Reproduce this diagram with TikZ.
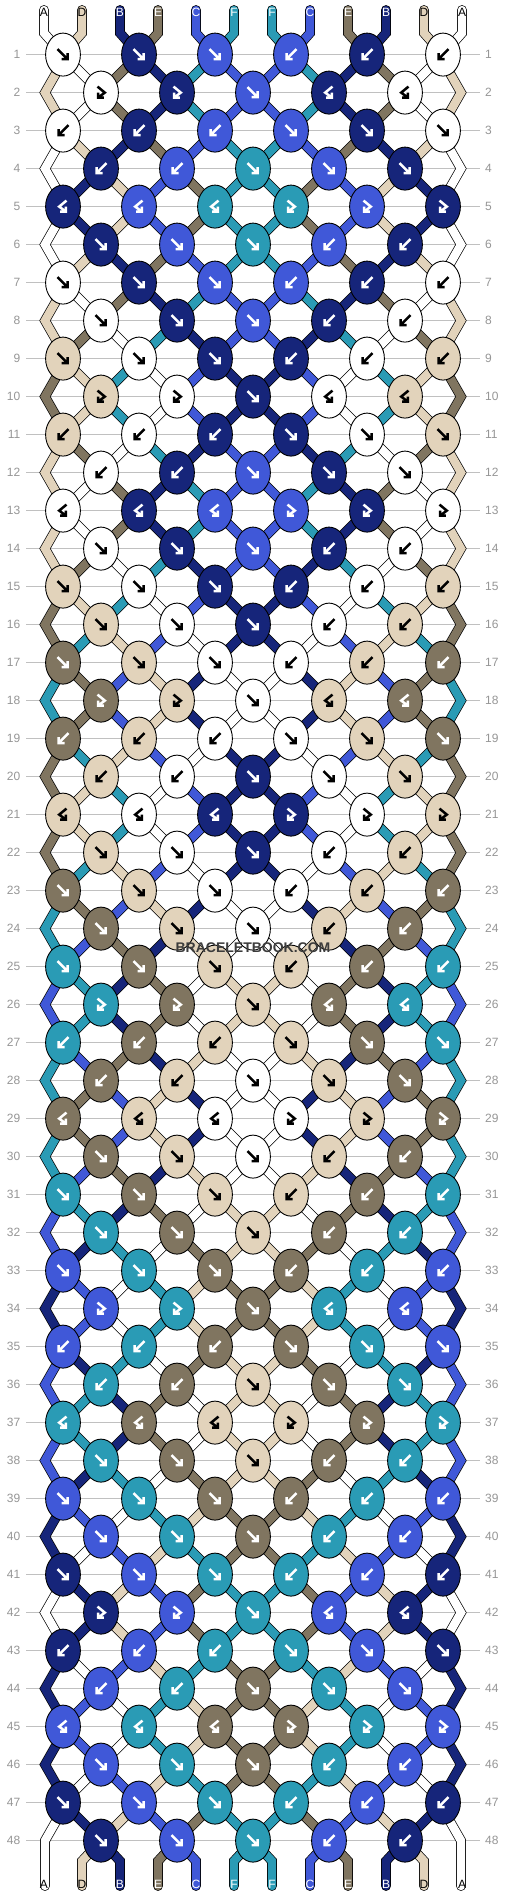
\documentclass[tikz,border=0pt]{standalone}
\usepackage{fontspec}
\setmainfont{Liberation Sans}
\definecolor{strA}{RGB}{255,255,255}
\definecolor{strD}{RGB}{226,211,187}
\definecolor{strB}{RGB}{22,37,122}
\definecolor{strE}{RGB}{128,117,96}
\definecolor{strC}{RGB}{64,88,216}
\definecolor{strF}{RGB}{42,155,181}
\colorlet{glyA}{black}
\colorlet{glyD}{black}
\colorlet{glyB}{white}
\colorlet{glyE}{white}
\colorlet{glyC}{white}
\colorlet{glyF}{white}
\definecolor{rowgray}{RGB}{192,192,192}
\definecolor{numgray}{RGB}{150,150,150}
\definecolor{markgray}{RGB}{60,60,60}
\tikzset{
	strand/.style={draw=black, line width=0.7pt, double distance=8.4pt},
	knot/.style={draw=black, line width=0.9pt},
	glyph/.style={line width=2.5pt, miter limit=6},
	rowline/.style={rowgray, line width=1pt},
	rownum/.style={numgray, inner sep=0pt, font=\fontsize{12}{12}\selectfont},
	lbl/.style={inner sep=0pt, font=\fontsize{12}{12}\selectfont}
}
\def\tyF{F}
\def\tyB{B}
\def\tyFB{FB}
\def\tyBF{BF}
% one knot at (x,y), xscale +1 or -1 (mirror)
\newcommand\knotat[3]{%
	\begin{scope}[shift={(#1,#2)}, xscale=#3]
		\draw[knot, fill=str\kl] (0,0) ellipse [x radius=17.4, y radius=21.5];
		\ifx\ktype\tyF \draw[glyph, draw=gly\kl] (-5.5,-5.5) -- (4.5,4.5) (4.5,-1.5) -- (4.5,4.5) -- (-1.5,4.5);\fi
		\ifx\ktype\tyB \draw[glyph, draw=gly\kl, xscale=-1] (-5.5,-5.5) -- (4.5,4.5) (4.5,-1.5) -- (4.5,4.5) -- (-1.5,4.5);\fi
		\ifx\ktype\tyFB \draw[glyph, draw=gly\kl] (-3.5,-6) -- (3.8,0) -- (-2.8,5) (-2.8,0) -- (-2.8,5) -- (2.8,5);\fi
		\ifx\ktype\tyBF \draw[glyph, draw=gly\kl, xscale=-1] (-3.5,-6) -- (3.8,0) -- (-2.8,5) (-2.8,0) -- (-2.8,5) -- (2.8,5);\fi
	\end{scope}}
% knot and its mirror: x, y, type, left colour, right colour (after the knot)
\newcommand\knotpair[5]{%
	\edef\ktype{#3}%
	\ifx\ktype\tyF \edef\kl{#5}\else\ifx\ktype\tyBF \edef\kl{#5}\else \edef\kl{#4}\fi\fi
	\knotat{#1}{#2}{1}%
	\knotat{506-#1}{#2}{-1}}
\newcommand\knotmid[4]{%
	\edef\ktype{#3}\edef\kl{#4}%
	\knotat{#1}{#2}{1}}
% row / knot types / strings at positions 1..6 after the row
\def\rowdata{1/F/F/F/D/A/E/B/F/C, 2/FB/FB/F/D/A/E/B/F/C, 3/B/B/B/A/D/B/E/C/F,
	4/B/B/F/A/B/D/C/E/F, 5/BF/BF/BF/A/B/D/C/E/F, 6/F/F/F/A/D/B/E/C/F,
	7/F/F/F/D/A/E/B/F/C, 8/F/F/F/D/E/A/F/B/C, 9/F/F/F/E/D/F/A/C/B,
	10/FB/FB/F/E/D/F/A/C/B, 11/B/B/B/D/E/A/F/B/C, 12/B/B/F/D/A/E/B/F/C,
	13/BF/BF/BF/D/A/E/B/F/C, 14/F/F/F/D/E/A/F/B/C, 15/F/F/F/E/D/F/A/C/B,
	16/F/F/F/E/F/D/C/A/B, 17/F/F/F/F/E/C/D/B/A, 18/FB/FB/F/F/E/C/D/B/A,
	19/B/B/B/E/F/D/C/A/B, 20/B/B/F/E/D/F/A/C/B, 21/BF/BF/BF/E/D/F/A/C/B,
	22/F/F/F/E/F/D/C/A/B, 23/F/F/F/F/E/C/D/B/A, 24/F/F/F/F/C/E/B/D/A,
	25/F/F/F/C/F/B/E/A/D, 26/FB/FB/F/C/F/B/E/A/D, 27/B/B/B/F/C/E/B/D/A,
	28/B/B/F/F/E/C/D/B/A, 29/BF/BF/BF/F/E/C/D/B/A, 30/F/F/F/F/C/E/B/D/A,
	31/F/F/F/C/F/B/E/A/D, 32/F/F/F/C/B/F/A/E/D, 33/F/F/F/B/C/A/F/D/E,
	34/FB/FB/F/B/C/A/F/D/E, 35/B/B/B/C/B/F/A/E/D, 36/B/B/F/C/F/B/E/A/D,
	37/BF/BF/BF/C/F/B/E/A/D, 38/F/F/F/C/B/F/A/E/D, 39/F/F/F/B/C/A/F/D/E,
	40/F/F/F/B/A/C/D/F/E, 41/F/F/F/A/B/D/C/E/F, 42/FB/FB/F/A/B/D/C/E/F,
	43/B/B/B/B/A/C/D/F/E, 44/B/B/F/B/C/A/F/D/E, 45/BF/BF/BF/B/C/A/F/D/E,
	46/F/F/F/B/A/C/D/F/E, 47/F/F/F/A/B/D/C/E/F, 48/F/F/F/A/D/B/E/C/F}

\begin{document}
\begin{tikzpicture}[x=1pt, y=-1pt]
	\fill[white] (0,0) rectangle (506,1896);
	\useasboundingbox (0,0) rectangle (506,1896);

	% row lines and numbers
	\foreach \row in {1,...,48} {
		\pgfmathsetmacro\ya{54.6+38*(\row-1)}
		\draw[rowline] (26,\ya) -- (480,\ya);
		\node[rownum, anchor=east] (nl\row) at (20.5,\ya) {\row};
		\node[rownum, anchor=west] (nr\row) at (485,\ya) {\row};
	}

	% strings at the top and bottom
	\foreach \pos/\col in {1/A,2/D,3/B,4/E,5/C,6/F} {
		\pgfmathsetmacro\xs{6+38*\pos}
		\pgfmathsetmacro\xk{25+38*(\pos-mod(\pos+1,2))}
		\draw[strand, double=str\col, line cap=round] (\xs,10) -- (\xs,33) -- (\xk,54.6);
		\draw[strand, double=str\col, line cap=round] (506-\xs,10) -- (506-\xs,33) -- (506-\xk,54.6);
		\node[lbl, text=gly\col] (t\pos) at (\xs,12) {\col};
		\node[lbl, text=gly\col] (tm\pos) at (506-\xs,12) {\col};
	}
	\foreach \pos/\col in {2/D,3/B,4/E,5/C,6/F} {
		\pgfmathsetmacro\xs{6+38*\pos}
		\pgfmathsetmacro\xk{25+38*(\pos-mod(\pos,2))}
		\draw[strand, double=str\col, line cap=round] (\xk,1840.6) -- (\xs,1861) -- (\xs,1886);
		\draw[strand, double=str\col, line cap=round] (506-\xk,1840.6) -- (506-\xs,1861) -- (506-\xs,1886);
	}

	% strings between the rows
	\foreach \row/\ka/\kb/\kc/\ua/\ub/\uc/\ud/\ue/\uf in \rowdata {
		\pgfmathsetmacro\ya{54.6+38*(\row-1)}
		\ifnum\row<48
			\foreach \pos/\col in {2/\ub,3/\uc,4/\ud,5/\ue,6/\uf} {
				\pgfmathsetmacro\xa{25+38*(\pos-mod(\pos+\row,2))}
				\pgfmathsetmacro\xb{25+38*(\pos-mod(\pos+\row+1,2))}
				\draw[strand, double=str\col] (\xa,\ya) -- (\xb,\ya+38);
				\draw[strand, double=str\col] (506-\xa,\ya) -- (506-\xb,\ya+38);
			}
		\fi
		\ifodd\row\else
			\ifnum\row<48
				\draw[strand, double=str\ua] (63,\ya-38) -- (61,\ya-28) -- (45,\ya) -- (61,\ya+28) -- (63,\ya+38);
				\draw[strand, double=str\ua] (443,\ya-38) -- (445,\ya-28) -- (461,\ya) -- (445,\ya+28) -- (443,\ya+38);
			\else
				\draw[strand, double=str\ua, line cap=round] (63,\ya-38) -- (61,\ya-28) -- (45,\ya) -- (45,1886);
				\draw[strand, double=str\ua, line cap=round] (443,\ya-38) -- (445,\ya-28) -- (461,\ya) -- (461,1886);
			\fi
		\fi
	}

	% bottom labels
	\foreach \pos/\col in {1/A,2/D,3/B,4/E,5/C,6/F} {
		\pgfmathsetmacro\xs{6+38*\pos}
		\node[lbl, text=gly\col] (b\pos) at (\xs,1884) {\col};
		\node[lbl, text=gly\col] (bm\pos) at (506-\xs,1884) {\col};
	}

	% knots
	\foreach \row/\ka/\kb/\kc/\ua/\ub/\uc/\ud/\ue/\uf in \rowdata {
		\pgfmathsetmacro\ya{54.6+38*(\row-1)}
		\ifodd\row
			\knotpair{63}{\ya}{\ka}{\ua}{\ub}
			\knotpair{139}{\ya}{\kb}{\uc}{\ud}
			\knotpair{215}{\ya}{\kc}{\ue}{\uf}
		\else
			\knotpair{101}{\ya}{\ka}{\ub}{\uc}
			\knotpair{177}{\ya}{\kb}{\ud}{\ue}
			\knotmid{253}{\ya}{\kc}{\uf}
		\fi
	}

	\node[text=markgray, font=\bfseries\fontsize{14}{14}\selectfont] (mark) at (253,948) {BRACELETBOOK.COM};
\end{tikzpicture}
\end{document}
